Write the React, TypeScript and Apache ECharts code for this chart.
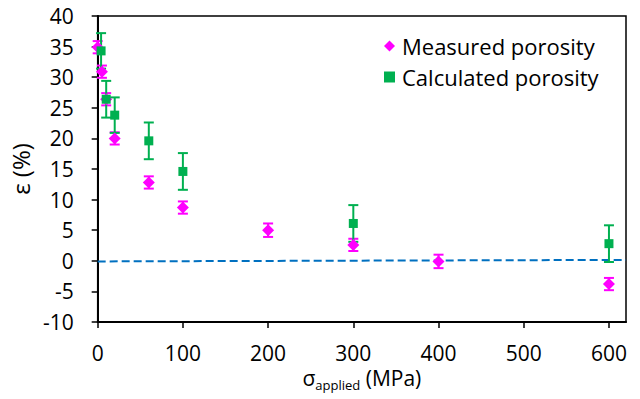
import React, { useEffect, useRef } from "react";
import * as echarts from "echarts";

const measuredX = [0, 5, 10, 20, 60, 100, 200, 300, 400, 600];
const measuredY = [34.9, 30.9, 26.4, 20.0, 12.8, 8.7, 5.0, 2.6, -0.1, -3.8];
const measuredErr = [1.0, 1.0, 1.0, 1.0, 1.0, 1.0, 1.1, 1.0, 1.1, 1.0];

const calculatedX = [4, 10, 20, 60, 100, 300, 600];
const calculatedY = [34.3, 26.4, 23.8, 19.6, 14.6, 6.1, 2.8];
const calculatedErr = [2.9, 3.0, 2.9, 3.0, 3.0, 3.0, 3.0];

const zeroLineX = [0, 620];
const zeroLineY = [-0.1, 0.15];

const xTicks = [0, 100, 200, 300, 400, 500, 600];
const yTicks = [-10, -5, 0, 5, 10, 15, 20, 25, 30, 35, 40];

const FONT = "Open Sans";
const MAGENTA = "#FF00FF";
const GREEN = "#00B050";
const BLUE = "#0070C0";

function errorSeries(xs: number[], ys: number[], es: number[], color: string) {
  return {
    type: "custom",
    silent: true,
    data: xs.map((x, i) => [x, ys[i], es[i]]),
    encode: { x: 0, y: 1 },
    renderItem: (params: any, api: any) => {
      const x = api.value(0);
      const y = api.value(1);
      const e = api.value(2);
      const top = api.coord([x, y + e]);
      const bot = api.coord([x, y - e]);
      const half = 5;
      const style = { stroke: color, lineWidth: 2 };
      return {
        type: "group",
        children: [
          { type: "line", shape: { x1: top[0], y1: top[1], x2: bot[0], y2: bot[1] }, style },
          { type: "line", shape: { x1: top[0] - half, y1: top[1], x2: top[0] + half, y2: top[1] }, style },
          { type: "line", shape: { x1: bot[0] - half, y1: bot[1], x2: bot[0] + half, y2: bot[1] }, style },
        ],
      };
    },
    z: 3,
  };
}

export default function App() {
  const ref = useRef<HTMLDivElement>(null);
  useEffect(() => {
    if (!ref.current) return;
    const chart = echarts.init(ref.current, undefined, { renderer: "svg" });
    chart.setOption({
      animation: false,
      textStyle: { fontFamily: FONT },
      grid: {
        left: 96,
        top: 16,
        right: 14,
        bottom: 77,
        show: true,
        borderColor: "#000",
        borderWidth: 1.5,
        backgroundColor: "transparent",
      },
      legend: {
        orient: "vertical",
        left: 379,
        top: 30,
        itemWidth: 11,
        itemHeight: 11,
        itemGap: 9,
        data: [
          { name: "Measured porosity", icon: "diamond" },
          { name: "Calculated porosity", icon: "rect" },
        ],
        textStyle: { fontFamily: FONT, fontSize: 22, color: "#000", lineHeight: 22, padding: [0, 0, 0, 2] },
      },
      xAxis: {
        type: "value",
        min: 0,
        max: 620,
        interval: 100,
        splitLine: { show: false },
        axisLine: { show: true, onZero: false, lineStyle: { color: "#000", width: 2 } },
        axisTick: { show: true, inside: false, length: 6, lineStyle: { color: "#000", width: 1.5 } },
        axisLabel: {
          margin: 20,
          fontSize: 21,
          fontFamily: FONT,
          color: "#000",
          showMaxLabel: false,
          formatter: (v: number) => (xTicks.indexOf(v) >= 0 ? String(v) : ""),
        },
        name: "{a|σ}{b|applied}{a| (MPa)}",
        nameLocation: "middle",
        nameGap: 43,
        nameTextStyle: {
          rich: {
            a: { fontSize: 21, fontFamily: FONT, color: "#000", lineHeight: 26 },
            b: { fontSize: 13, fontFamily: FONT, color: "#000", lineHeight: 16, verticalAlign: "bottom" },
          },
        },
      },
      yAxis: {
        type: "value",
        min: -10,
        max: 40,
        interval: 5,
        splitLine: { show: false },
        axisLine: { show: true, onZero: false, lineStyle: { color: "#000", width: 2 } },
        axisTick: { show: true, inside: false, length: 6, lineStyle: { color: "#000", width: 1.5 } },
        axisLabel: {
          margin: 24,
          fontSize: 21,
          fontFamily: FONT,
          color: "#000",
          formatter: (v: number) => (yTicks.indexOf(v) >= 0 ? String(v) : ""),
        },
        name: "ε (%)",
        nameLocation: "middle",
        nameGap: 58,
        nameTextStyle: { fontSize: 24, fontFamily: FONT, color: "#000" },
      },
      series: [
        {
          type: "line",
          name: "zero",
          data: zeroLineX.map((x, i) => [x, zeroLineY[i]]),
          showSymbol: false,
          symbol: "none",
          lineStyle: { color: BLUE, width: 2, type: [8, 4] },
          silent: true,
          z: 1,
        },
        errorSeries(measuredX, measuredY, measuredErr, MAGENTA),
        {
          type: "scatter",
          name: "Measured porosity",
          symbol: "diamond",
          symbolSize: 12,
          itemStyle: { color: MAGENTA, opacity: 1 },
          data: measuredX.map((x, i) => [x, measuredY[i]]),
          z: 4,
        },
        errorSeries(calculatedX, calculatedY, calculatedErr, GREEN),
        {
          type: "scatter",
          name: "Calculated porosity",
          symbol: "rect",
          symbolSize: 9,
          itemStyle: { color: GREEN, opacity: 1 },
          data: calculatedX.map((x, i) => [x, calculatedY[i]]),
          z: 6,
        },
      ],
    });
    return () => chart.dispose();
  }, []);
  return (
    <div
      ref={ref}
      style={{ position: "fixed", left: 0, top: 0, width: 640, height: 399, background: "#fff" }}
    />
  );
}
